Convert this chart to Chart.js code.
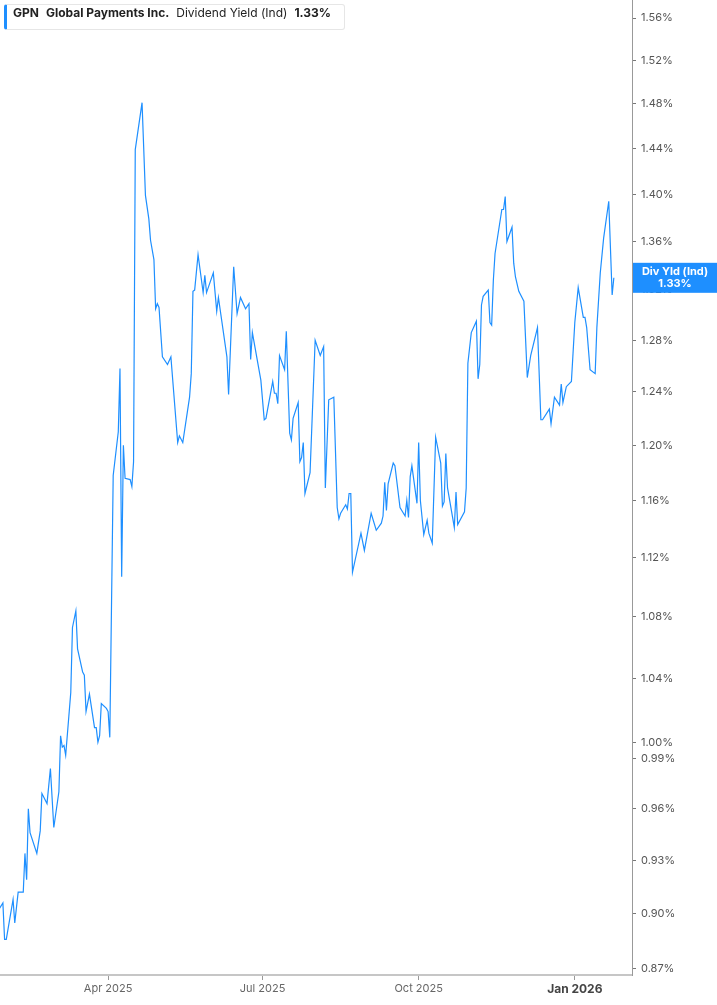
<!DOCTYPE html>
<html>
<head>
<meta charset="utf-8">
<title>GPN Dividend Yield (Ind)</title>
<script src="https://cdn.jsdelivr.net/npm/chart.js@4.4.1/dist/chart.umd.min.js"></script>
<style>
  html, body { margin:0; padding:0; background:#fff; }
  #wrap { position:relative; width:717px; height:1005px; }
  #legendBox {
    position:absolute; left:4px; top:4px; height:24px; line-height:24px;
    padding:0 13px 0 6px; background:#fff;
    border:1px solid #e6e6e6; border-left:3px solid #1e8fff; border-radius:3px;
    font:12px Inter, "Noto Sans", sans-serif; color:#222; white-space:nowrap;
  }
  #legendBox span { margin-right:7px; }
  #legendBox span:last-child { margin-right:0; }
  #legendBox .b { font-weight:700; }
</style>
</head>
<body>
<div id="wrap">
  <canvas id="yieldChart"></canvas>
  <div id="legendBox">
    <span class="b">GPN</span><span class="b">Global Payments Inc.</span><span>Dividend Yield (Ind)</span><span class="b">1.33%</span>
  </div>
</div>
<script>
// ---- data ----
const dates = [
  '2025-01-27','2025-01-29','2025-01-30','2025-01-31','2025-02-04','2025-02-05','2025-02-07','2025-02-10',
  '2025-02-11','2025-02-12','2025-02-13','2025-02-14','2025-02-18','2025-02-20','2025-02-21','2025-02-24',
  '2025-02-26','2025-02-28','2025-03-03','2025-03-04','2025-03-05','2025-03-06','2025-03-07','2025-03-10',
  '2025-03-11','2025-03-13','2025-03-14','2025-03-17','2025-03-18','2025-03-19','2025-03-21','2025-03-24',
  '2025-03-25','2025-03-26','2025-03-27','2025-03-28','2025-03-31','2025-04-01','2025-04-02','2025-04-04',
  '2025-04-07','2025-04-08','2025-04-09','2025-04-10','2025-04-11','2025-04-14','2025-04-15','2025-04-16',
  '2025-04-17','2025-04-21','2025-04-23','2025-04-25','2025-04-26','2025-04-28','2025-04-29','2025-04-30',
  '2025-05-01','2025-05-03','2025-05-06','2025-05-08','2025-05-12','2025-05-13','2025-05-15','2025-05-19',
  '2025-05-20','2025-05-21','2025-05-22','2025-05-24','2025-05-27','2025-05-28','2025-05-29','2025-06-02',
  '2025-06-04','2025-06-05','2025-06-10','2025-06-11','2025-06-14','2025-06-16','2025-06-18','2025-06-21',
  '2025-06-23','2025-06-24','2025-06-25','2025-06-30','2025-07-02','2025-07-03','2025-07-07','2025-07-08',
  '2025-07-09','2025-07-10','2025-07-11','2025-07-14','2025-07-15','2025-07-17','2025-07-18','2025-07-19',
  '2025-07-22','2025-07-23','2025-07-24','2025-07-25','2025-07-26','2025-07-29','2025-08-01','2025-08-04',
  '2025-08-06','2025-08-07','2025-08-09','2025-08-12','2025-08-14','2025-08-15','2025-08-16','2025-08-19',
  '2025-08-20','2025-08-21','2025-08-22','2025-08-23','2025-08-28','2025-08-30','2025-09-03','2025-09-06',
  '2025-09-09','2025-09-10','2025-09-11','2025-09-12','2025-09-13','2025-09-16','2025-09-17','2025-09-20',
  '2025-09-23','2025-09-24','2025-09-25','2025-09-26','2025-09-27','2025-09-30','2025-10-01','2025-10-02',
  '2025-10-04','2025-10-06','2025-10-07','2025-10-09','2025-10-11','2025-10-14','2025-10-15','2025-10-16',
  '2025-10-17','2025-10-18','2025-10-22','2025-10-23','2025-10-24','2025-10-28','2025-10-29','2025-10-30',
  '2025-11-01','2025-11-04','2025-11-05','2025-11-06','2025-11-07','2025-11-08','2025-11-11','2025-11-12',
  '2025-11-13','2025-11-14','2025-11-15','2025-11-19','2025-11-20','2025-11-21','2025-11-22','2025-11-25',
  '2025-11-26','2025-11-27','2025-11-29','2025-12-02','2025-12-04','2025-12-06','2025-12-10','2025-12-12',
  '2025-12-13','2025-12-17','2025-12-18','2025-12-20','2025-12-23','2025-12-24','2025-12-25','2025-12-27',
  '2025-12-30','2026-01-01','2026-01-03','2026-01-06','2026-01-07','2026-01-08','2026-01-10','2026-01-13',
  '2026-01-14','2026-01-16','2026-01-18','2026-01-21','2026-01-23','2026-01-24'
];

const yields = [
  0.903,0.906,0.886,0.886,0.908,0.895,0.912,0.912,
  0.934,0.919,0.960,0.946,0.934,0.947,0.969,0.963,
  0.984,0.949,0.970,1.004,0.997,0.998,0.992,1.031,
  1.073,1.084,1.059,1.044,1.042,1.019,1.030,1.009,
  1.009,1.000,1.004,1.024,1.021,1.019,1.003,1.178,
  1.210,1.258,1.107,1.200,1.176,1.175,1.170,1.188,
  1.439,1.481,1.399,1.379,1.361,1.345,1.305,1.309,
  1.306,1.267,1.261,1.267,1.202,1.207,1.202,1.236,
  1.254,1.319,1.320,1.349,1.318,1.332,1.318,1.334,
  1.303,1.314,1.267,1.238,1.339,1.301,1.314,1.305,
  1.309,1.265,1.286,1.249,1.219,1.220,1.248,1.239,
  1.239,1.231,1.268,1.257,1.287,1.209,1.204,1.220,
  1.232,1.188,1.191,1.202,1.165,1.180,1.280,1.268,
  1.275,1.169,1.234,1.236,1.155,1.147,1.151,1.157,
  1.154,1.165,1.165,1.110,1.137,1.125,1.151,1.139,
  1.144,1.149,1.173,1.153,1.172,1.187,1.185,1.155,
  1.149,1.160,1.148,1.177,1.185,1.158,1.202,1.160,
  1.136,1.146,1.137,1.130,1.206,1.187,1.156,1.159,
  1.194,1.169,1.141,1.166,1.143,1.152,1.169,1.262,
  1.286,1.295,1.250,1.261,1.308,1.315,1.320,1.294,
  1.292,1.328,1.350,1.387,1.387,1.398,1.360,1.372,
  1.342,1.331,1.319,1.311,1.251,1.268,1.290,1.219,
  1.219,1.227,1.216,1.236,1.230,1.246,1.232,1.244,
  1.248,1.294,1.322,1.298,1.298,1.290,1.257,1.254,
  1.290,1.334,1.363,1.394,1.316,1.330
];

const yTicks = [0.87,0.90,0.93,0.96,0.99,1.00,1.04,1.08,1.12,1.16,1.20,1.24,1.28,1.32,1.36,1.40,1.44,1.48,1.52,1.56];
const xTickDates = ['2025-04-01','2025-07-01','2025-10-01','2026-01-01'];
const xTickLabels = ['Apr 2025','Jul 2025','Oct 2025','Jan 2026'];

const LINE_COLOR = '#1e8fff';
const BASE = Date.UTC(2025, 0, 1);

function dayNum(iso) {
  const [y, m, d] = iso.split('-').map(Number);
  return (Date.UTC(y, m - 1, d) - BASE) / 86400000;
}

const xTickDays = xTickDates.map(dayNum);

// blue badge on the right axis with the last value
const lastValueBadge = {
  id: 'lastValueBadge',
  afterDraw(chart) {
    const { ctx, scales, chartArea } = chart;
    const last = yields[yields.length - 1];
    const y = scales.y.getPixelForValue(last);
    const x0 = chartArea.right + 1;
    ctx.save();
    ctx.fillStyle = LINE_COLOR;
    ctx.fillRect(x0, y - 15, chart.width - x0, 30);
    ctx.fillStyle = '#fff';
    ctx.textAlign = 'center';
    ctx.textBaseline = 'middle';
    ctx.font = 'bold 11px Inter, "Noto Sans", sans-serif';
    const cx = (x0 + chart.width) / 2;
    ctx.fillText('Div Yld (Ind)', cx, y - 6);
    ctx.fillText(last.toFixed(2) + '%', cx, y + 6);
    ctx.restore();
  }
};

new Chart(document.getElementById('yieldChart').getContext('2d'), {
  type: 'line',
  data: {
    datasets: [{
      data: dates.map((d, i) => ({ x: dayNum(d), y: yields[i] })),
      borderColor: LINE_COLOR,
      borderWidth: 1.2,
      pointRadius: 0,
      tension: 0,
      fill: false
    }]
  },
  options: {
    responsive: true,
    maintainAspectRatio: false,
    animation: false,
    layout: { padding: 0 },
    plugins: { legend: { display: false }, tooltip: { enabled: false } },
    scales: {
      x: {
        type: 'linear',
        min: 26.3,
        max: 398.7,
        afterBuildTicks: s => { s.ticks = xTickDays.map(v => ({ value: v })); },
        afterFit: s => { s.height = 30; s.paddingLeft = 0; s.paddingRight = 0; },
        grid: { drawOnChartArea: false, drawTicks: true, tickLength: 5, color: '#999' },
        border: { color: '#c6c6c6', width: 2 },
        ticks: {
          autoSkip: false,
          maxRotation: 0,
          padding: 2,
          color: ctx => ctx.tick && ctx.tick.value === 365 ? '#444' : '#666',
          font: ctx => ({
            family: 'Inter, "Noto Sans", sans-serif',
            size: ctx.tick && ctx.tick.value === 365 ? 12 : 11,
            weight: ctx.tick && ctx.tick.value === 365 ? 'bold' : 'normal'
          }),
          callback: v => xTickLabels[xTickDays.indexOf(v)] || ''
        }
      },
      y: {
        type: 'logarithmic',
        position: 'right',
        min: 0.8668,
        max: 1.5774,
        afterBuildTicks: s => { s.ticks = yTicks.map(v => ({ value: v })); },
        afterFit: s => { s.width = 85; s.paddingTop = 0; s.paddingBottom = 0; },
        grid: { drawOnChartArea: false, drawTicks: true, tickLength: 4, color: '#777' },
        border: { color: '#999', width: 1 },
        ticks: {
          autoSkip: false,
          padding: 5,
          color: '#555',
          font: { family: 'Inter, "Noto Sans", sans-serif', size: 11 },
          callback: v => Number(v).toFixed(2) + '%'
        }
      }
    }
  },
  plugins: [lastValueBadge]
});
</script>
</body>
</html>
